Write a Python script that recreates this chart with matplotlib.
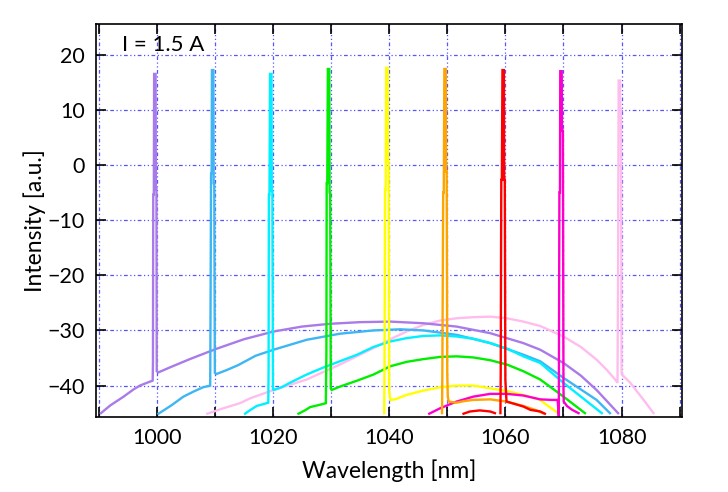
import numpy as np
import matplotlib
matplotlib.use('Agg')
import matplotlib.pyplot as plt
from matplotlib.ticker import MultipleLocator, FuncFormatter

# 各激光波长对应的光谱 (波长 nm, 强度 dB)
purple_wl = [990.4, 992.0, 994.3, 996.0, 997.1, 998.3, 999.3, 999.35, 999.4, 999.5, 999.55, 999.8,
             999.85, 999.95, 1000.0, 1000.3, 1002.5, 1005.7, 1010.1, 1015.0, 1020.1, 1025.0, 1029.8,
             1035.0, 1040.2, 1045.9, 1051.6, 1057.4, 1063.1, 1066.0, 1070.0, 1073.0, 1075.7, 1079.4]
purple_db = [-45.0, -43.6, -42.0, -40.7, -40.0, -39.5, -39.1, -35.9, -5.4, -5.4, 16.5, 16.5,
             -4.4, -4.4, -37.4, -37.6, -36.6, -35.2, -33.4, -31.6, -30.2, -29.3, -28.8,
             -28.5, -28.4, -28.7, -29.3, -30.5, -32.3, -33.5, -35.9, -38.2, -40.8, -45.0]

blue_wl = [1000.3, 1002.5, 1004.6, 1006.5, 1008.0, 1009.2, 1009.25, 1009.35, 1009.45, 1009.5, 1009.75,
           1009.8, 1009.9, 1010.0, 1010.3, 1012.0, 1014.0, 1017.0, 1020.1, 1025.8, 1031.5, 1037.3,
           1041.9, 1045.9, 1051.6, 1057.4, 1063.1, 1066.0, 1070.0, 1075.7, 1078.0]
blue_db = [-45.1, -43.6, -42.0, -41.0, -40.3, -40.0, -29.0, -1.6, -1.6, 17.2, 17.2,
           -3.3, -3.3, -37.7, -37.9, -37.2, -36.3, -34.6, -33.5, -31.7, -30.6, -30.0,
           -29.8, -30.0, -30.8, -32.3, -34.4, -35.6, -38.6, -42.6, -45.0]

cyan_wl = [1015.2, 1016.0, 1017.2, 1018.2, 1019.2, 1019.25, 1019.3, 1019.4, 1019.5, 1019.75, 1019.8,
           1019.9, 1020.0, 1020.1, 1021.5, 1022.9, 1025.8, 1028.5, 1031.5, 1034.5, 1037.3, 1040.2,
           1043.0, 1045.9, 1048.8, 1051.6, 1054.5, 1057.4, 1060.3, 1063.1, 1066.0, 1070.0, 1073.0, 1076.6]
cyan_db = [-45.1, -44.5, -43.7, -43.4, -43.1, -37.1, -5.4, -5.4, 16.5, 16.5, -4.7,
           -4.7, -40.6, -40.8, -40.3, -39.5, -38.0, -36.8, -35.6, -34.4, -33.0, -32.0,
           -31.4, -31.0, -30.9, -31.1, -31.5, -32.3, -33.3, -34.7, -35.9, -39.5, -42.0, -45.0]

green_wl = [1024.4, 1025.5, 1026.4, 1028.0, 1029.1, 1029.2, 1029.25, 1029.35, 1029.45, 1029.7, 1029.75,
            1029.85, 1029.95, 1030.1, 1031.5, 1034.5, 1037.3, 1040.2, 1043.0, 1045.9, 1048.8, 1051.6,
            1054.5, 1057.4, 1060.3, 1063.1, 1066.0, 1070.0, 1073.7]
green_db = [-45.1, -44.5, -43.9, -43.5, -43.2, -34.4, -3.3, -3.3, 17.4, 17.4, -5.0,
            -5.0, -40.5, -40.8, -40.2, -39.1, -38.0, -36.5, -35.7, -35.2, -34.8, -34.7,
            -34.9, -35.4, -36.2, -37.4, -38.9, -42.0, -45.0]

yellow_wl = [1039.15, 1039.2, 1039.3, 1039.4, 1039.5, 1039.75, 1039.8, 1039.9, 1040.0, 1040.2, 1041.0,
             1043.0, 1045.9, 1048.8, 1051.6, 1054.5, 1057.4, 1060.3, 1063.1, 1066.0, 1067.1, 1069.1]
yellow_db = [-45.0, -37.1, -4.5, -4.5, 17.6, 17.6, 0.6, 0.6, -41.0, -42.6, -42.5,
             -41.7, -40.9, -40.3, -40.0, -40.0, -40.5, -41.0, -41.7, -42.6, -43.5, -45.0]

orange_wl = [1049.1, 1049.15, 1049.3, 1049.4, 1049.5, 1049.75, 1049.8, 1049.9, 1050.0, 1050.1, 1050.25,
             1051.6, 1053.0, 1054.5, 1057.4, 1060.2, 1063.1, 1065.4, 1066.5]
orange_db = [-45.0, -38.0, -5.0, -5.0, 17.4, 17.4, -1.2, -1.2, -38.0, -42.0, -42.9,
             -43.1, -42.8, -42.6, -42.5, -42.9, -43.7, -44.5, -45.0]

red_low_wl = [1052.8, 1053.9, 1055.6, 1057.4, 1058.2]
red_low_db = [-45.1, -44.7, -44.5, -44.7, -45.0]
red_wl = [1059.15, 1059.2, 1059.3, 1059.4, 1059.5, 1059.75, 1059.8, 1059.9, 1060.0, 1060.05, 1060.2,
          1061.5, 1063.1, 1064.3, 1066.0, 1066.8]
red_db = [-45.0, -38.0, -2.7, -2.7, 17.2, 17.2, -2.7, -2.7, -38.9, -40.0, -42.9,
          -43.3, -43.8, -44.4, -44.7, -45.1]

magenta_wl = [1046.9, 1048.8, 1051.6, 1054.5, 1057.4, 1060.2, 1063.1, 1066.0, 1068.0, 1069.0, 1069.2,
              1069.3, 1069.4, 1069.45, 1069.7, 1069.75, 1069.9, 1070.0, 1070.05, 1070.6, 1071.5, 1072.6]
magenta_db = [-45.1, -44.1, -42.9, -42.0, -41.5, -41.5, -41.8, -42.5, -42.6, -42.6, -45.6,
              -5.0, -5.0, 17.0, 17.0, 6.2, 6.2, -40.5, -42.9, -43.7, -44.4, -45.0]

pink_wl = [1008.7, 1011.5, 1014.3, 1016.1, 1020.1, 1025.8, 1031.5, 1037.3, 1040.2, 1043.0, 1045.9,
           1048.8, 1051.6, 1054.5, 1057.4, 1060.3, 1063.1, 1066.0, 1070.0, 1073.0, 1075.7, 1077.5,
           1078.9, 1079.3, 1079.4, 1079.5, 1079.75, 1079.8, 1079.9, 1080.0, 1080.05, 1081.5, 1083.8, 1085.5]
pink_db = [-45.1, -44.1, -43.2, -42.3, -40.8, -38.9, -36.2, -33.2, -31.6, -30.2, -29.0,
           -28.2, -27.8, -27.6, -27.5, -27.8, -28.4, -29.2, -31.1, -33.0, -35.3, -37.2,
           -38.9, -39.5, -20.0, 15.3, 15.3, 10.0, 10.0, -37.5, -38.0, -39.5, -42.6, -45.0]

series = [
    (pink_wl, pink_db, '#FFBDEE'),
    (purple_wl, purple_db, '#A97BE8'),
    (blue_wl, blue_db, '#3DB6F2'),
    (cyan_wl, cyan_db, '#00F0FF'),
    (green_wl, green_db, '#00EE00'),
    (yellow_wl, yellow_db, '#FFFF00'),
    (magenta_wl, magenta_db, '#FF00CC'),
    (orange_wl, orange_db, '#FFA500'),
    (red_low_wl, red_low_db, '#FF0000'),
    (red_wl, red_db, '#FF0000'),
]

plt.rcParams['font.family'] = ['Lato', 'DejaVu Sans']

fig = plt.figure(figsize=(7.28, 4.92), dpi=100)
ax = fig.add_axes([0.1315, 0.1524, 0.8053, 0.7982])

for wl, db, c in series:
    ax.plot(wl, db, color=c, linewidth=1.7, solid_joinstyle='miter')

ax.set_xlim(989.5, 1090.4)
ax.set_ylim(-45.7, 25.5)

ax.xaxis.set_major_locator(MultipleLocator(10))
ax.yaxis.set_major_locator(MultipleLocator(10))
ax.xaxis.set_major_formatter(FuncFormatter(lambda v, p: f'{v:.0f}' if round(v) % 20 == 0 else ''))
ax.tick_params(direction='in', length=7, width=1.2, top=True, right=True, labelsize=15.5, pad=8)

ax.grid(True, color='#5555FF', linestyle=(0, (3, 2, 1, 2, 1, 2)), linewidth=0.9)
for s in ax.spines.values():
    s.set_linewidth(1.2)

ax.set_xlabel('Wavelength [nm]', fontsize=16.5, labelpad=8)
ax.set_ylabel('Intensity [a.u.]', fontsize=16.5, labelpad=1)
ax.text(994.0, 21.7, 'I = 1.5 A', fontsize=16, va='center', ha='left')

fig.savefig('out.png', dpi=100)
